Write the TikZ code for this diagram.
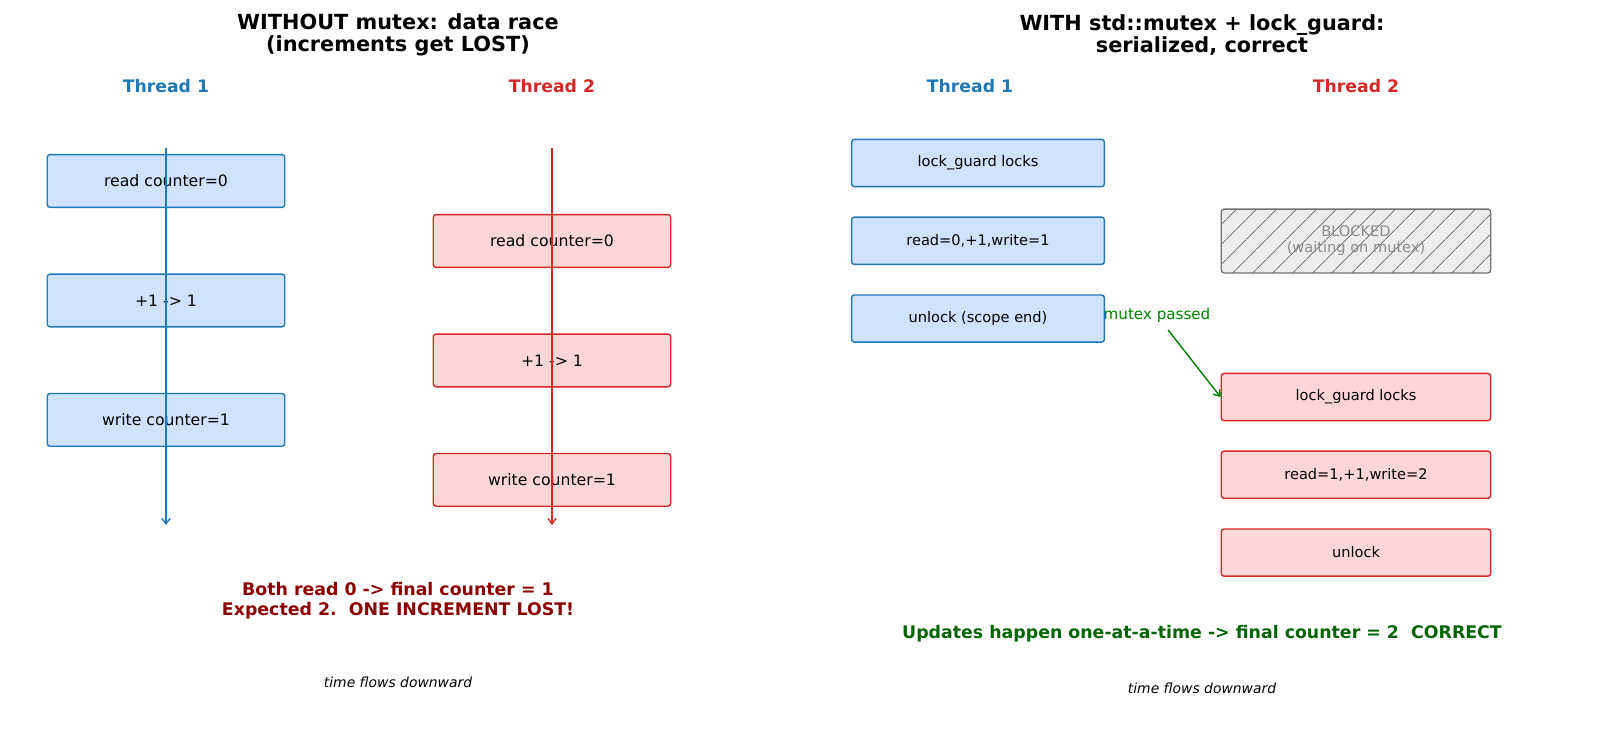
\documentclass[tikz,border=0pt]{standalone}
\usepackage{fontspec}
\setmainfont{DejaVu Sans}
\usetikzlibrary{arrows,arrows.meta,positioning,patterns.meta}
\definecolor{tblue}{HTML}{1F77B4}
\definecolor{tred}{HTML}{D62728}
\definecolor{bluefill}{HTML}{CFE2FF}
\definecolor{redfill}{HTML}{FFD6D6}
\definecolor{lostred}{HTML}{8B0000}
\definecolor{okgreen}{HTML}{006400}
\definecolor{passgreen}{HTML}{008000}
\tikzstyle{boxtext}=[font=\fontsize{10.5}{12}\selectfont]
\tikzstyle{bluebox}=[boxtext,draw=tblue,fill=bluefill,rounded corners=2pt,line width=1pt]
\tikzstyle{redbox}=[boxtext,draw=tred,fill=redfill,rounded corners=2pt,line width=1pt]
\tikzstyle{flow}=[-{Straight Barb[length=4pt,width=6pt]},line width=1pt]

\begin{document}
\begin{tikzpicture}[x=0.72pt,y=-0.72pt,on grid]
	\tikzstyle{title}=[align=center,font=\bfseries\fontsize{15}{16.2}\selectfont]
	\tikzstyle{thread}=[font=\bfseries\fontsize{12.4}{14}\selectfont]
	\tikzstyle{tnote}=[font=\itshape\fontsize{10}{11}\selectfont]
	\tikzstyle{wide}=[minimum width=171pt,minimum height=38pt,font=\fontsize{11.3}{13}\selectfont]
	\tikzstyle{narrow}=[minimum width=182pt,minimum height=34pt]
	\useasboundingbox (0,0) rectangle (1600,733);

	% left: no mutex
	\node[title] (tl) at (398,35) {WITHOUT mutex: data race\\(increments get LOST)};
	\node[thread,text=tblue] (h1) at (166,86) {Thread 1};
	\node[thread,text=tred] (h2) at (552,86) {Thread 2};

	\node[bluebox,wide] (p1) at (166,181) {read counter=0};
	\node[bluebox,wide] (p2) [below=86pt of p1] {+1 -> 1};
	\node[bluebox,wide] (p3) [below=86pt of p2] {write counter=1};
	\node[redbox,wide] (q1) at (552,241) {read counter=0};
	\node[redbox,wide] (q2) [below=86pt of q1] {+1 -> 1};
	\node[redbox,wide] (q3) [below=86pt of q2] {write counter=1};

	\coordinate (top1) at (166,148);
	\coordinate (bot1) at (166,525);
	\coordinate (top2) at (552,148);
	\coordinate (bot2) at (552,525);
	\draw[flow,tblue] (top1) -- (bot1);
	\draw[flow,tred] (top2) -- (bot2);

	\node[align=center,text=lostred,font=\bfseries\fontsize{12.5}{14.4}\selectfont] (lost) at (398,601)
		{Both read 0 -> final counter = 1\\Expected 2.\ \ ONE INCREMENT LOST!};
	\node[tnote] (n1) at (398,682) {time flows downward};

	% right: std::mutex + lock_guard
	\node[title] (tr) at (1202,35) {WITH std::mutex + lock\_guard:\\serialized, correct};
	\node[thread,text=tblue] (h3) at (970,86) {Thread 1};
	\node[thread,text=tred] (h4) at (1356,86) {Thread 2};

	\node[bluebox,narrow] (u1) at (978,163) {lock\_guard locks};
	\node[bluebox,narrow] (u2) [below=56pt of u1] {read=0,+1,write=1};
	\node[bluebox,narrow] (u3) [below=56pt of u2] {unlock (scope end)};

	\node[draw=black!55,line width=1pt,rounded corners=2pt,preaction={fill=black!7},
		pattern={Lines[angle=45,distance=10.5pt,line width=0.65pt]},pattern color=black!55,
		minimum width=194pt,minimum height=46pt,align=center,text=black!45,
		font=\fontsize{10.5}{11.5}\selectfont] (blk) at (1356,241) {BLOCKED\\(waiting on mutex)};

	\node[redbox,narrow,minimum width=194pt] (w1) at (1356,397) {lock\_guard locks};
	\node[redbox,narrow,minimum width=194pt] (w2) [below=56pt of w1] {read=1,+1,write=2};
	\node[redbox,narrow,minimum width=194pt] (w3) [below=56pt of w2] {unlock};

	\node[text=passgreen,font=\fontsize{10.9}{12}\selectfont] (mp) at (1157,315) {mutex passed};
	\draw[flow,passgreen] ([xshift=8pt,yshift=-2pt]mp.south) -- (w1.west);

	\node[text=okgreen,font=\bfseries\fontsize{12.5}{14}\selectfont] (ok) at (1202,634)
		{Updates happen one-at-a-time -> final counter = 2\ \ CORRECT};
	\node[tnote] (n2) at (1202,688) {time flows downward};
\end{tikzpicture}
\end{document}
